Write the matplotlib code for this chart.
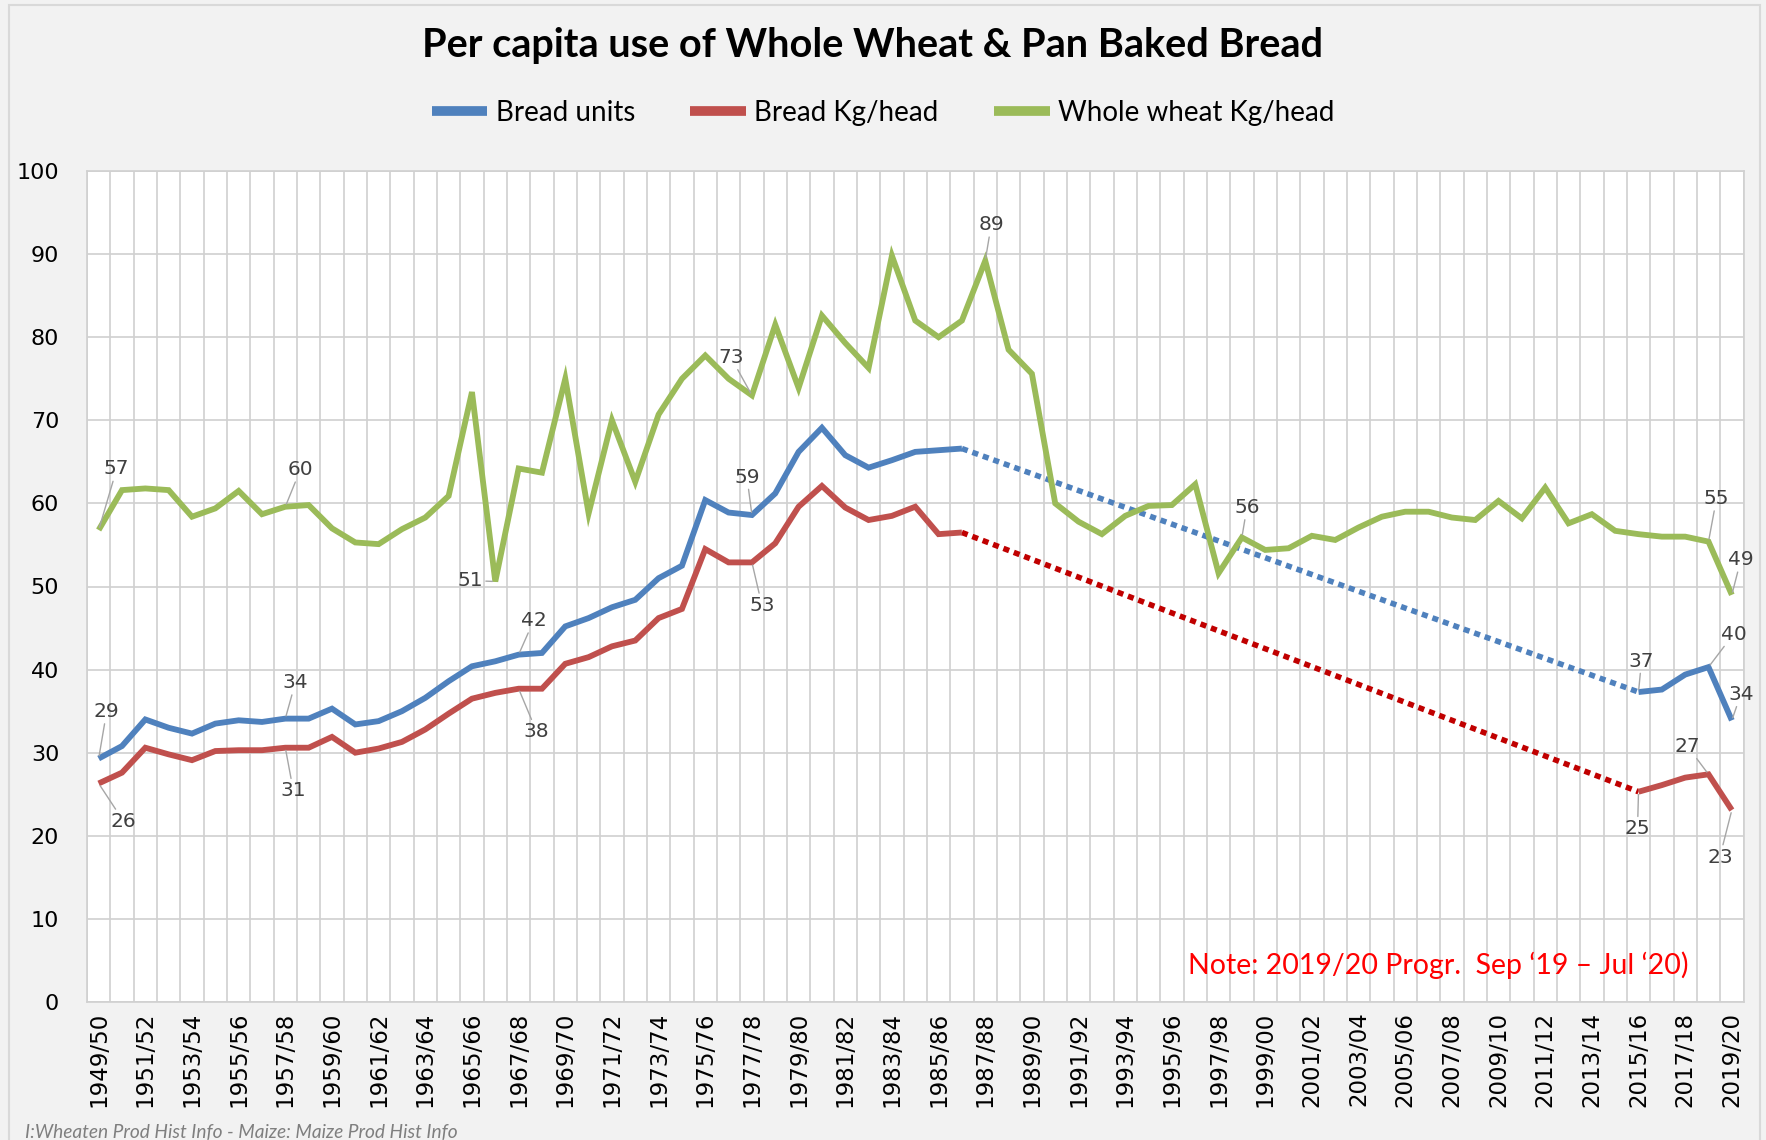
import numpy as np
import matplotlib
matplotlib.use("Agg")
import matplotlib.pyplot as plt
from matplotlib.lines import Line2D
from matplotlib.patches import Rectangle

nan = np.nan
seasons = [f"{y}/{(y + 1) % 100:02d}" for y in range(1949, 2020)]

bread_units = [29.3, 30.8, 34.0, 33.0, 32.3, 33.5, 33.9, 33.7, 34.1, 34.1,
               35.3, 33.4, 33.8, 35.0, 36.6, 38.6, 40.4, 41.0, 41.8, 42.0,
               45.2, 46.2, 47.5, 48.4, 51.0, 52.5, 60.4, 58.9, 58.6, 61.2,
               66.2, 69.1, 65.8, 64.3, 65.2, 66.2, 66.4, 66.6] + [nan] * 28 + \
              [37.3, 37.6, 39.4, 40.3, 33.9]
bread_kg = [26.3, 27.6, 30.6, 29.8, 29.1, 30.2, 30.3, 30.3, 30.6, 30.6,
            31.9, 30.0, 30.5, 31.3, 32.8, 34.7, 36.5, 37.2, 37.7, 37.7,
            40.7, 41.5, 42.8, 43.5, 46.2, 47.3, 54.5, 52.9, 52.9, 55.2,
            59.6, 62.1, 59.5, 58.0, 58.5, 59.6, 56.3, 56.5] + [nan] * 28 + \
           [25.3, 26.1, 27.0, 27.4, 23.1]
whole_wheat = [56.8, 61.6, 61.8, 61.6, 58.4, 59.4, 61.5, 58.7, 59.6, 59.8,
               57.0, 55.3, 55.1, 56.9, 58.3, 60.9, 73.4, 50.6, 64.2, 63.7,
               75.0, 58.8, 70.0, 62.6, 70.7, 75.0, 77.8, 75.0, 73.0, 81.5,
               73.9, 82.6, 79.3, 76.3, 89.8, 82.0, 80.0, 82.0, 89.2, 78.5,
               75.6, 60.0, 57.8, 56.3, 58.5, 59.7, 59.8, 62.3, 51.6, 55.9,
               54.4, 54.6, 56.1, 55.6, 57.1, 58.4, 59.0, 59.0, 58.3, 58.0,
               60.3, 58.2, 61.9, 57.6, 58.7, 56.7, 56.3, 56.0, 56.0, 55.4,
               49.0]

series_names = ["Bread units", "Bread Kg/head", "Whole wheat Kg/head"]
colors = ["#4F81BD", "#C0504D", "#9BBB59"]
gap_colors = ["#4F81BD", "#C00000"]

# labelled points: (index, dx, dy) offsets in pixels
labels_units = [(0, 8, 47), (8, 10, 36), (18, 15, 34), (28, -5, 38), (66, 3, 31), (69, 25, 33), (70, 9, 26)]
labels_kg = [(0, 25, -38), (8, 8, -43), (18, 18, -43), (28, 10, -43), (66, -1, -37), (69, -21, 28), (70, -12, -47)]
labels_wheat = [(0, 18, 61), (8, 15, 37), (17, -25, 1), (28, -21, 38), (38, 6, 36), (49, 5, 30), (69, 8, 43), (70, 9, 35)]

W, H = 1766, 1140
fig = plt.figure(figsize=(W / 100, H / 100), dpi=100)
fig.patch.set_facecolor("#F2F2F2")
fig.patches.append(Rectangle((9 / W, -0.02), (1760 - 9) / W, 1.0 - 5 / H + 0.02,
                             transform=fig.transFigure, fill=False,
                             edgecolor="#D9D9D9", lw=1.5))

ax = fig.add_axes([87 / W, 1 - 1002 / H, (1743.5 - 87) / W, (1002 - 171) / H])
ax.set_facecolor("white")
x = np.arange(len(seasons))

def gap_pairs(vals):
    v = np.asarray(vals, dtype=float)
    ok = ~np.isnan(v)
    pairs = []
    for i in range(1, len(v)):
        if ok[i] and not ok[i - 1]:
            j = i - 1
            while j >= 0 and not ok[j]:
                j -= 1
            if j >= 0:
                pairs.append((j, i))
    return pairs

data = [bread_units, bread_kg, whole_wheat]
for k, vals in enumerate(data[:2]):
    for a, b in gap_pairs(vals):
        ax.plot([x[a], x[b]], [vals[a], vals[b]], color=gap_colors[k], lw=4,
                linestyle=(0, (1.1, 0.9)), dash_capstyle="butt", zorder=3)

for k, vals in enumerate(data):
    ax.plot(x, vals, color=colors[k], lw=4.2, solid_joinstyle="miter",
            solid_capstyle="butt", zorder=4)

for vals, labs in zip(data, [labels_units, labels_kg, labels_wheat]):
    for i, dx, dy in labs:
        ax.annotate(f"{vals[i]:.0f}", xy=(x[i], vals[i]), xytext=(dx, dy),
                    textcoords="offset pixels", ha="center", va="center",
                    fontsize=14.5, color="#404040", zorder=6,
                    arrowprops=dict(arrowstyle="-", color="#A6A6A6", lw=1,
                                    shrinkA=0, shrinkB=2))

ax.set_xlim(-0.5, len(seasons) - 0.5)
ax.set_ylim(0, 100)
ax.set_yticks(np.arange(0, 101, 10))
ax.set_xticks(x[::2])
ax.set_xticklabels(seasons[::2], rotation=90)
ax.set_xticks(np.arange(-0.5, len(seasons), 1), minor=True)
ax.tick_params(axis="x", which="both", length=0, labelsize=16.5, pad=7)
ax.tick_params(axis="y", length=0, labelsize=16, pad=20)
ax.grid(False)
ax.grid(True, axis="y", which="major", color="#D0D0D0", lw=1.2, zorder=0)
ax.grid(True, axis="x", which="minor", color="#D0D0D0", lw=1.2, zorder=0)
for s in ax.spines.values():
    s.set_color("#D0D0D0")
    s.set_linewidth(1.2)

fig.text(873 / W, 1 - 46 / H, "Per capita use of Whole Wheat & Pan Baked Bread",
         ha="center", va="center", fontsize=28.5, fontweight="bold",
         family="Lato", color="black")

handles = [Line2D([], [], color=c, lw=7, solid_capstyle="butt") for c in colors]
fig.legend(handles, series_names, loc="center", bbox_to_anchor=(883 / W, 1 - 113 / H),
           ncol=3, frameon=False, handlelength=2.0, handletextpad=0.3,
           columnspacing=2.0, prop={"family": "Lato", "size": 20})

ax.text(0.967, 0.0445, "Note: 2019/20 Progr.  Sep \u201819 \u2013 Jul \u201820)",
        transform=ax.transAxes, ha="right", va="center", color="#FF0000",
        fontsize=20.5, family="Lato", zorder=7)

fig.text(25 / W, 1 - 1133 / H, "I:Wheaten Prod Hist Info - Maize: Maize Prod Hist Info",
         ha="left", va="center", fontsize=13.8, style="italic", family="Lato",
         color="#7F7F7F")

fig.savefig("out.png", dpi=100, facecolor=fig.get_facecolor())
